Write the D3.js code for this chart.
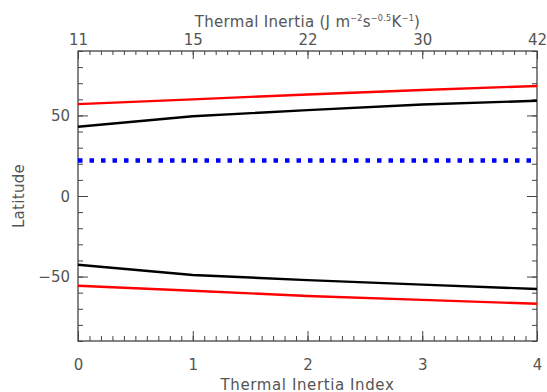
<!DOCTYPE html>
<html><head><meta charset="utf-8">
<script src="https://cdn.jsdelivr.net/npm/d3@7"></script>
<style>body{margin:0;background:#fff}svg{display:block}text{font-family:"DejaVu Sans",sans-serif;fill:#555}</style>
</head><body>
<svg id="c" width="547" height="392"></svg>
<script>
const index = [0, 1, 2, 3, 4];
const topTickLabels = ["11", "15", "22", "30", "42"];
const redNorth = [57, 60, 63, 65.8, 68.3];
const blackNorth = [43, 49.5, 53.3, 56.8, 59.1];
const redSouth = [-55.7, -58.8, -62.1, -64.5, -66.9];
const blackSouth = [-42.7, -49, -52.2, -55, -57.7];
const blueLat = [22, 22];
const yLabels = [-50, 0, 50];

const svg = d3.select("#c");
const L = 78, R = 537, T = 51, B = 341;
const x = d3.scaleLinear().domain([0, 4]).range([L, R]);
const y = d3.scaleLinear().domain([-90, 90]).range([B, T]);
const axisCol = "#444";

// frame
svg.append("rect").attr("x", L).attr("y", T).attr("width", R - L).attr("height", B - T)
  .attr("fill", "none").attr("stroke", axisCol).attr("stroke-width", 1.3);

const xMinor = d3.range(0, 4.0001, 0.1);
const yMinor = d3.range(-90, 90.0001, 10);

function tickAxis(axisGen, transform) {
  const g = svg.append("g").attr("transform", transform).call(axisGen);
  g.select(".domain").remove();
  g.selectAll("line").attr("stroke", axisCol).attr("stroke-width", 1);
  return g;
}
// bottom
tickAxis(d3.axisTop(x).tickValues(xMinor).tickSize(5).tickFormat(""), `translate(0,${B})`);
const gb = tickAxis(d3.axisTop(x).tickValues(index).tickSize(10).tickFormat(d3.format("d")), `translate(0,${B})`);
gb.selectAll("text").attr("y", 29).attr("dy", 0).style("font-size", "15px").attr("fill", "#555").style("font-family", "DejaVu Sans");
// top
tickAxis(d3.axisBottom(x).tickValues(xMinor).tickSize(4).tickFormat(""), `translate(0,${T})`);
const gt = tickAxis(d3.axisBottom(x).tickValues(index).tickSize(8).tickFormat((d, i) => topTickLabels[i]), `translate(0,${T})`);
gt.selectAll("text").attr("y", -6).attr("dy", 0).style("font-size", "15px").attr("fill", "#555").style("font-family", "DejaVu Sans");
// left
tickAxis(d3.axisRight(y).tickValues(yMinor).tickSize(5).tickFormat(""), `translate(${L},0)`);
const gl = tickAxis(d3.axisRight(y).tickValues(yLabels).tickSize(10).tickFormat(d => d < 0 ? "\u2212" + Math.abs(d) : d), `translate(${L},0)`);
gl.selectAll("text").attr("x", -8).attr("dy", "0.36em").attr("text-anchor", "end").style("font-size", "15px").attr("fill", "#555").style("font-family", "DejaVu Sans");
// right
tickAxis(d3.axisLeft(y).tickValues(yMinor).tickSize(5).tickFormat(""), `translate(${R},0)`);
tickAxis(d3.axisLeft(y).tickValues(yLabels).tickSize(10).tickFormat(""), `translate(${R},0)`);

// lines
const line = d3.line().x((d, i) => x(index[i])).y(d => y(d));
const drawLine = (data, color) => svg.append("path").datum(data).attr("d", line)
  .attr("fill", "none").attr("stroke", color).attr("stroke-width", 2.4);
drawLine(redNorth, "#ff0000");
drawLine(blackNorth, "#000000");
drawLine(redSouth, "#ff0000");
drawLine(blackSouth, "#000000");
svg.append("path").datum(blueLat)
  .attr("d", d3.line().x((d, i) => x(i * 4)).y(d => y(d)))
  .attr("fill", "none").attr("stroke", "#0000ff").attr("stroke-width", 4.5)
  .attr("stroke-dasharray", "4.5 7");

// titles
svg.append("text").attr("x", (L + R) / 2).attr("y", 390).attr("text-anchor", "middle")
  .style("font-size", "15px").attr("letter-spacing", 0.6).text("Thermal Inertia Index");
const tt = svg.append("text").attr("x", (L + R) / 2).attr("y", 27).attr("text-anchor", "middle")
  .style("font-size", "15px").attr("letter-spacing", 0.3);
tt.append("tspan").text("Thermal Inertia (J m");
tt.append("tspan").attr("dy", -6).style("font-size", "8px").text("\u22122");
tt.append("tspan").attr("dy", 6).text("s");
tt.append("tspan").attr("dy", -6).style("font-size", "8px").text("\u22120.5");
tt.append("tspan").attr("dy", 6).text("K");
tt.append("tspan").attr("dy", -6).style("font-size", "8px").text("\u22121");
tt.append("tspan").attr("dy", 6).text(")");
svg.append("text").attr("transform", `translate(24,${(T + B) / 2}) rotate(-90)`)
  .attr("text-anchor", "middle").style("font-size", "15px").attr("letter-spacing", 0.3).text("Latitude");
</script>
</body></html>
